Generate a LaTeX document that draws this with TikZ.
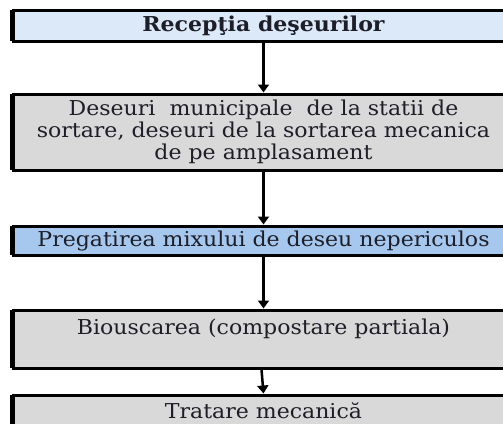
\documentclass[tikz,border=0pt]{standalone}
\usepackage{fontspec}
\setmainfont[FakeStretch=1.075]{DejaVu Serif}
\usetikzlibrary{arrows.meta}
\definecolor{lightblue}{HTML}{DBE9F8}
\definecolor{midblue}{HTML}{A6C8EE}
\definecolor{boxgray}{HTML}{D9D9D9}
\definecolor{txt}{HTML}{1E1E28}
\tikzset{
  procbox/.style={draw=black, line width=3pt, minimum width=501pt, inner sep=3pt,
    text=txt, font=\fontsize{20.5}{22}\selectfont, align=center},
  flow/.style={line width=2.5pt, -{Triangle[width=11pt,length=8pt]}},
  leftedge/.style={line width=5pt}
}
\begin{document}
\begin{tikzpicture}[x=1pt,y=-1pt]
\useasboundingbox (0,0) rectangle (503,423);
\clip (0,0) rectangle (503,423);
\fill[white] (0,0) rectangle (503,423);
\node[procbox, fill=lightblue, minimum height=31pt, font=\fontsize{20.5}{22}\selectfont\bfseries] (b1) at (263.5,25.5) {Recepţia deşeurilor};
\node[procbox, fill=boxgray, minimum height=76pt] (b2) at (263.5,132) {Deseuri\ \ municipale\ \ de la statii de\\sortare, deseuri de la sortarea mecanica\\de pe amplasament};
\node[procbox, fill=midblue, minimum height=29pt] (b3) at (263.5,240.5) {Pregatirea mixului de deseu nepericulos};
\node[procbox, fill=boxgray, minimum height=58pt, text height=21pt, text depth=31pt] (b4) at (263.5,339) {Biouscarea (compostare partiala)};
\node[procbox, fill=boxgray, minimum height=44pt, text height=20pt, text depth=18pt] (b5) at (263.5,417) {Tratare mecanică};
\foreach \n in {b1,b2,b3,b4,b5}
  \draw[leftedge] ([xshift=1pt,yshift=1.5pt]\n.south west) -- ([xshift=1pt,yshift=-1.5pt]\n.north west);
\draw[flow] (b1) -- (b2);
\draw[flow] (b2) -- (b3);
\draw[flow] (b3) -- (b4);
\draw[flow] ([xshift=-2pt]b4.south) -- (b5.north);
\end{tikzpicture}
\end{document}
